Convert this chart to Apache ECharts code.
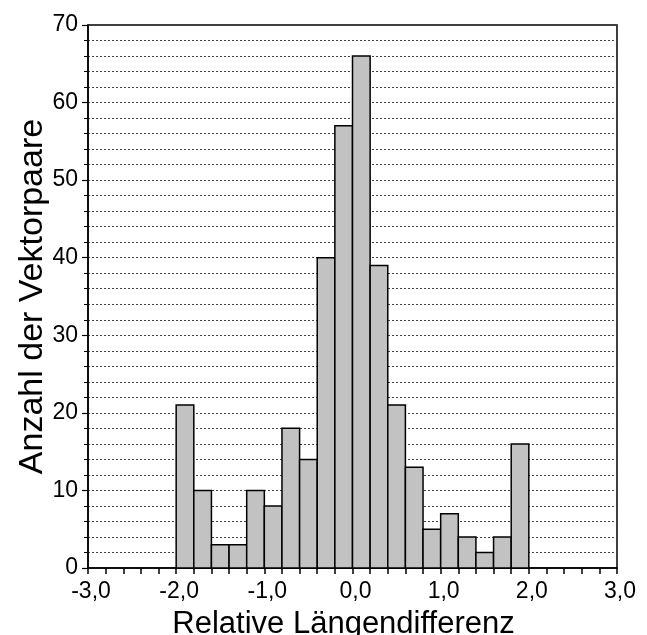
<!DOCTYPE html>
<html><head><meta charset="utf-8">
<script src="https://cdn.jsdelivr.net/npm/echarts@6/dist/echarts.min.js"></script>
<style>html,body{margin:0;padding:0;background:#fff}#c{width:647px;height:635px}</style>
</head><body><div id="c"></div>
<script>
const binStarts = [-2.0,-1.8,-1.6,-1.4,-1.2,-1.0,-0.8,-0.6,-0.4,-0.2,0.0,0.2,0.4,0.6,0.8,1.0,1.2,1.4,1.6,1.8];
const binWidth = 0.2;
const counts = [21,10,3,3,10,8,18,14,40,57,66,39,21,13,5,7,4,2,4,16];
const xTitle = 'Relative Längendifferenz';
const yTitle = 'Anzahl der Vektorpaare';

const data = binStarts.map((s,i)=>[s, s+binWidth, counts[i]]);
const font = '"Liberation Sans", Arial, Helvetica, sans-serif';
const chart = echarts.init(document.getElementById('c'));
chart.setOption({
  animation:false,
  backgroundColor:'#fff',
  grid:{left:88,right:30,top:25,bottom:67,containLabel:false,outerBoundsMode:'none',
    show:true,borderColor:'#000',borderWidth:1.5,backgroundColor:'transparent'},
  xAxis:{type:'value',min:-3,max:3,interval:1,
    name:xTitle,nameLocation:'middle',nameGap:41,nameMoveOverlap:false,
    nameTextStyle:{fontFamily:font,fontSize:31,color:'#000',padding:[0,18,0,0]},
    axisLine:{onZero:false,lineStyle:{color:'#000',width:1.5}},
    axisTick:{show:true,length:6,inside:false,lineStyle:{color:'#000',width:1.5}},
    minorTick:{show:true,splitNumber:5,length:6,lineStyle:{color:'#000',width:1.5}},
    splitLine:{show:false},
    axisLabel:{fontFamily:font,fontSize:23,color:'#000',margin:12,padding:[0,0,0,6],
      formatter:v=>v.toFixed(1).replace('.',',')}
  },
  yAxis:{type:'value',min:0,max:70,interval:10,
    name:yTitle,nameLocation:'middle',nameGap:38,nameRotate:90,nameMoveOverlap:false,
    nameTextStyle:{fontFamily:font,fontSize:34,color:'#000'},
    axisLine:{onZero:false,lineStyle:{color:'#000',width:1.5}},
    axisTick:{show:true,length:6,lineStyle:{color:'#000',width:1.2}},
    minorTick:{show:true,splitNumber:5,length:4,lineStyle:{color:'#000',width:1}},
    splitLine:{show:true,lineStyle:{color:'#444',type:[2,2],width:1}},
    minorSplitLine:{show:true,lineStyle:{color:'#444',type:[2,2],width:1}},
    axisLabel:{fontFamily:font,fontSize:23,color:'#000',margin:10}
  },
  series:[{
    type:'custom',
    data:data,
    encode:{x:[0,1],y:2},
    renderItem:function(params,api){
      const p0 = api.coord([api.value(0),0]);
      const p1 = api.coord([api.value(1),api.value(2)]);
      return {type:'rect',
        shape:{x:p0[0],y:p1[1],width:p1[0]-p0[0],height:p0[1]-p1[1]},
        style:{fill:'#c2c2c2',stroke:'#000',lineWidth:1.5}};
    }
  }]
});
</script></body></html>
